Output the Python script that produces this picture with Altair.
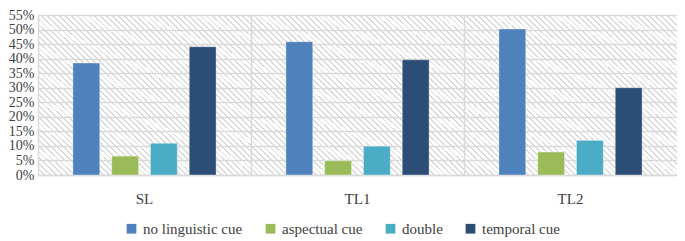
import altair as alt
import pandas as pd

groups = ["SL", "TL1", "TL2"]
series = ["no linguistic cue", "aspectual cue", "double", "temporal cue"]
values = {
    "no linguistic cue": [0.385, 0.458, 0.502],
    "aspectual cue": [0.065, 0.049, 0.079],
    "double": [0.109, 0.099, 0.119],
    "temporal cue": [0.441, 0.396, 0.300],
}
colors = ["#4F81BD", "#9BBB59", "#4BACC6", "#2C4D75"]
y_ticks = [0, 0.05, 0.10, 0.15, 0.20, 0.25, 0.30, 0.35, 0.40, 0.45, 0.50, 0.55]

rows = []
for s in series:
    for g, v in zip(groups, values[s]):
        rows.append({"group": g, "series": s, "value": v})
df = pd.DataFrame(rows)

W, H = 639, 160

# diagonal hatch background via a striped linear gradient
N = 136
stops = []
for i in range(N):
    a = round(i / N, 5)
    b = round((i + 0.3) / N, 5)
    stops += [
        {"offset": a, "color": "#dadada"},
        {"offset": b, "color": "#dadada"},
        {"offset": b, "color": "rgba(255,255,255,0)"},
        {"offset": round((i + 1) / N, 5), "color": "rgba(255,255,255,0)"},
    ]
hatch = alt.LinearGradient(gradient="linear", x1=0, y1=1, x2=1.1787, y2=0.6985,
                           stops=[alt.GradientStop(**s) for s in stops])

FONT = "'Liberation Serif', 'DejaVu Serif', serif"

background = alt.Chart(pd.DataFrame({"a": [0]})).mark_rect(fill=hatch).encode(
    x=alt.value(0), x2=alt.value(W), y=alt.value(0), y2=alt.value(H)
)

bars = alt.Chart(df).mark_bar(stroke="#ffffff", strokeWidth=0.6, strokeOpacity=0.6).encode(
    x=alt.X("group:N", sort=groups, title=None,
            scale=alt.Scale(paddingInner=0, paddingOuter=0),
            axis=alt.Axis(labelAngle=0, ticks=False, domain=True, domainColor="#d9d9d9",
                          domainWidth=1.5, grid=True, gridColor="#d9d9d9", gridWidth=1.5,
                          bandPosition=0, labelFont=FONT, labelFontSize=15,
                          labelColor="#404040", labelPadding=16)),
    xOffset=alt.XOffset("series:N", sort=series,
                        scale=alt.Scale(paddingInner=0.3077, paddingOuter=0.9)),
    y=alt.Y("value:Q", title=None,
            scale=alt.Scale(domain=[0, 0.55], nice=False),
            axis=alt.Axis(values=y_ticks, format=".0%", ticks=False, domain=False,
                          grid=True, gridColor="#d9d9d9", gridWidth=1.5,
                          labelFont=FONT, labelFontSize=14, labelColor="#404040",
                          labelPadding=4)),
    color=alt.Color("series:N", sort=series,
                    scale=alt.Scale(domain=series, range=colors),
                    legend=alt.Legend(title=None, orient="none", direction="horizontal",
                                      legendX=86, legendY=H + 46,
                                      symbolType="square", symbolSize=95,
                                      symbolStrokeWidth=0, labelFont=FONT,
                                      labelFontSize=15, labelColor="#404040",
                                      columnPadding=20, labelLimit=300)),
)

chart = alt.layer(background, bars).properties(
    width=W, height=H, padding={"left": 0, "top": 0, "right": 0, "bottom": 0}
).configure_view(
    stroke=None
)

chart.save("out.html", embed_options={"renderer": "svg", "actions": False})
